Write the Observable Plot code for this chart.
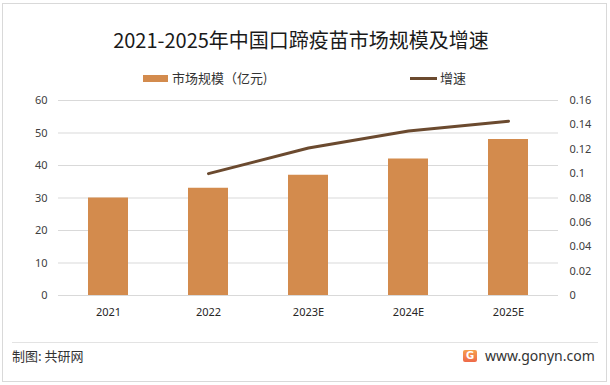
<!DOCTYPE html>
<html>
<head>
<meta charset="utf-8">
<script src="https://cdn.jsdelivr.net/npm/d3@7"></script>
<script src="https://cdn.jsdelivr.net/npm/@observablehq/plot@0.6"></script>
<style>
  html, body { margin: 0; padding: 0; background: #fff; }
  #frame { position: relative; width: 610px; height: 385px; overflow: hidden; font-family: "Noto Sans CJK SC", "Noto Sans", sans-serif; }
  #border { position: absolute; left: 2px; top: 3px; width: 603px; height: 377px; border: 1px solid #d9d9d9; }
  #title { position: absolute; top: 27px; left: 0; width: 602px; text-align: center; font-size: 20px; line-height: 26px; color: #1a1a1a; }
  .leg { position: absolute; top: 69px; font-size: 13px; line-height: 18px; color: #333; }
  .sw { position: absolute; }
  #chart { position: absolute; left: 0; top: 88px; }
  #fline { position: absolute; left: 12px; top: 342px; width: 586px; height: 1px; background: #e3e3e3; }
  #src { position: absolute; left: 12px; top: 347px; font-size: 13px; line-height: 18px; color: #333; }
  #site { position: absolute; left: 485px; top: 346px; font-size: 14px; line-height: 20px; color: #333; font-family: "Noto Sans", "Open Sans", sans-serif; }
  #icon { position: absolute; left: 463px; top: 350px; width: 14px; height: 12px; border-radius: 2px; background: linear-gradient(#f6a04d, #ee6a4a); color: #fff; font: bold 10px/12px "DejaVu Sans", sans-serif; text-align: center; }
</style>
</head>
<body>
<div id="frame">
  <div id="border"></div>
  <div id="title">2021-2025年中国口蹄疫苗市场规模及增速</div>
  <div class="sw" style="left:143px; top:75px; width:25px; height:7px; background:#D38B4D;"></div>
  <div class="leg" style="left:172px;">市场规模（亿元)</div>
  <div class="sw" style="left:410px; top:77px; width:27px; height:3px; background:#6B4A2F;"></div>
  <div class="leg" style="left:440px;">增速</div>
  <div id="chart"></div>
  <div id="fline"></div>
  <div id="src">制图: 共研网</div>
  <div id="icon">G</div>
  <div id="site">www.gonyn.com</div>
</div>
<script>
const years = ["2021", "2022", "2023E", "2024E", "2025E"];
const marketSize = [30, 33, 37, 42, 48];
const growthYears = ["2022", "2023E", "2024E", "2025E"];
const growthRate = [0.10, 0.121, 0.135, 0.143];
const leftTicks = [0, 10, 20, 30, 40, 50, 60];
const rightTicks = [0, 0.02, 0.04, 0.06, 0.08, 0.1, 0.12, 0.14, 0.16];

const leftMax = 60, rightMax = 0.16;
const k = leftMax / rightMax;

const bars = years.map((y, i) => ({year: y, size: marketSize[i]}));
const rates = growthYears.map((y, i) => ({year: y, rate: growthRate[i]}));

const chart = Plot.plot({
  width: 610,
  height: 240,
  marginLeft: 58,
  marginRight: 52,
  marginTop: 12,
  marginBottom: 33,
  style: {fontFamily: "'Noto Sans', 'Open Sans', sans-serif", fontSize: "11px", color: "#404040", background: "transparent"},
  x: {type: "band", domain: years, paddingInner: 0.6, paddingOuter: 0.3, label: null},
  y: {domain: [0, leftMax], label: null},
  marks: [
    Plot.ruleY(leftTicks, {stroke: "#d9d9d9", strokeWidth: 1}),
    Plot.barY(bars, {x: "year", y: "size", fill: "#D38B4D"}),
    Plot.line(rates, {x: "year", y: d => d.rate * k, stroke: "#6B4A2F", strokeWidth: 3, strokeLinecap: "round"}),
    Plot.axisY(leftTicks, {anchor: "left", tickSize: 0, tickPadding: 11, label: null, fill: "#404040"}),
    Plot.axisY(rightTicks.map(r => r * k), {anchor: "right", tickSize: 0, tickPadding: 11, label: null, fill: "#404040",
      tickFormat: d => String(+(d / k).toFixed(4))}),
    Plot.axisX({tickSize: 0, tickPadding: 13, label: null, fill: "#262626"})
  ]
});
document.getElementById("chart").appendChild(chart);
</script>
</body>
</html>
